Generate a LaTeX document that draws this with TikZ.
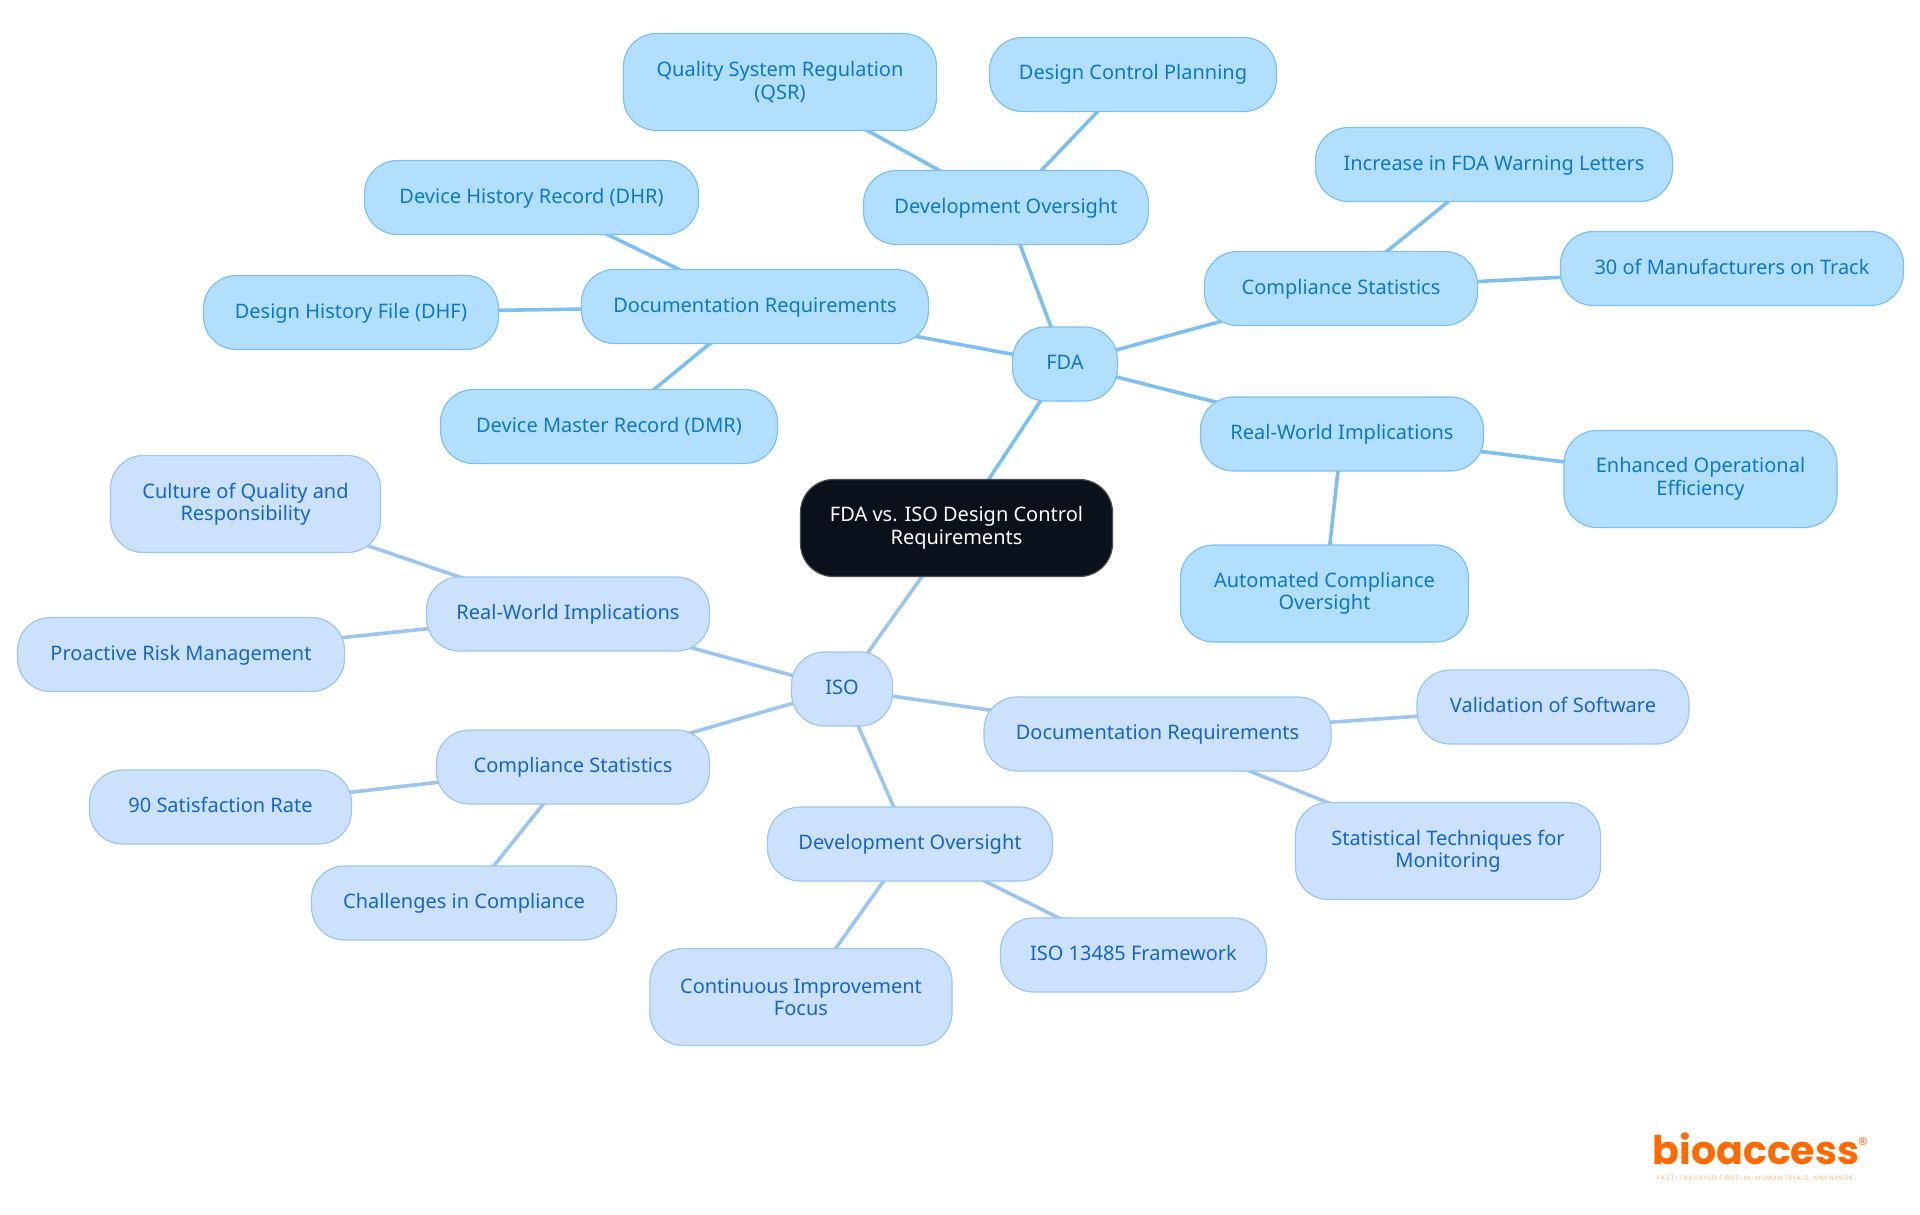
\documentclass[tikz,border=0pt]{standalone}
\usepackage{fontspec}
\setmainfont{Noto Sans}
\newfontfamily\logofont{Poppins}
\newfontfamily\tagfont[LetterSpace=12]{Poppins}
\usetikzlibrary{backgrounds}
\definecolor{fdafill}{HTML}{B3DFFF}
\definecolor{fdaline}{HTML}{7CC0F2}
\definecolor{fdatext}{HTML}{0B78C8}
\definecolor{isofill}{HTML}{CCE2FC}
\definecolor{isoline}{HTML}{9CC5F0}
\definecolor{isotext}{HTML}{1565C8}
\definecolor{rootfill}{HTML}{0B111A}
\definecolor{logoorange}{HTML}{FF6A00}
\tikzset{
  mapbox/.style={rounded corners=33pt, line width=1.2pt, inner sep=0pt, align=center, font=\fontsize{20}{22.5}\selectfont},
  rootbox/.style={mapbox, fill=rootfill, draw=rootfill!75!white, text=white},
  fdabox/.style={mapbox, fill=fdafill, draw=fdaline, text=fdatext},
  isobox/.style={mapbox, fill=isofill, draw=isoline, text=isotext},
  one/.style={minimum height=74pt, text height=15.5pt, text depth=4.5pt},
  two/.style={minimum height=97pt},
  fdaedge/.style={draw=fdaline, line width=3.6pt},
  isoedge/.style={draw=isoline, line width=3.6pt}
}
\begin{document}
\begin{tikzpicture}[x=1pt,y=-1pt]
\useasboundingbox (0,0) rectangle (1920,1215);
% Centre
\node[rootbox, two, minimum width=312pt] (root) at (956.5,528) {FDA vs. ISO Design Control\\Requirements};
% FDA
\node[fdabox, one, minimum width=105pt] (fda) at (1065,364) {FDA};
\node[fdabox, one, minimum width=285pt] (fdadev) at (1006,207.5) {Development Oversight};
\node[fdabox, two, minimum width=313pt] (qsr) at (780,82) {Quality System Regulation\\(QSR)};
\node[fdabox, one, minimum width=287pt] (planning) at (1133,74.5) {Design Control Planning};
\node[fdabox, one, minimum width=273pt] (fdastats) at (1341,288.5) {Compliance Statistics};
\node[fdabox, one, minimum width=357pt] (letters) at (1494,164.5) {Increase in FDA Warning Letters};
\node[fdabox, one, minimum width=343pt] (track) at (1732,268.5) {30 of Manufacturers on Track};
\node[fdabox, one, minimum width=283pt] (fdareal) at (1342,434) {Real-World Implications};
\node[fdabox, two, minimum width=273pt] (efficiency) at (1700.5,479) {Enhanced Operational\\Efficiency};
\node[fdabox, two, minimum width=288pt] (automated) at (1324.5,593.5) {Automated Compliance\\Oversight};
\node[fdabox, one, minimum width=347pt] (fdadoc) at (755,306.5) {Documentation Requirements};
\node[fdabox, one, minimum width=334pt] (dhr) at (531.5,197.5) {Device History Record (DHR)};
\node[fdabox, one, minimum width=295pt] (dhf) at (351,312.5) {Design History File (DHF)};
\node[fdabox, one, minimum width=337pt] (dmr) at (609,426.5) {Device Master Record (DMR)};
% ISO
\node[isobox, one, minimum width=101pt] (iso) at (842,689) {ISO};
\node[isobox, one, minimum width=283pt] (isoreal) at (568,614) {Real-World Implications};
\node[isobox, two, minimum width=270pt] (culture) at (245.5,504) {Culture of Quality and\\Responsibility};
\node[isobox, one, minimum width=327pt] (risk) at (181,654.5) {Proactive Risk Management};
\node[isobox, one, minimum width=273pt] (isostats) at (573,767) {Compliance Statistics};
\node[isobox, one, minimum width=262pt] (satisfaction) at (220.5,807) {90 Satisfaction Rate};
\node[isobox, one, minimum width=305pt] (challenges) at (464,903) {Challenges in Compliance};
\node[isobox, one, minimum width=285pt] (isodev) at (910,844) {Development Oversight};
\node[isobox, two, minimum width=302pt] (improvement) at (801,997) {Continuous Improvement\\Focus};
\node[isobox, one, minimum width=266pt] (framework) at (1133.5,955) {ISO 13485 Framework};
\node[isobox, one, minimum width=347pt] (isodoc) at (1157.5,734) {Documentation Requirements};
\node[isobox, one, minimum width=272pt] (software) at (1553,707) {Validation of Software};
\node[isobox, two, minimum width=305pt] (techniques) at (1448,851) {Statistical Techniques for\\Monitoring};
% Liens
\begin{scope}[on background layer]
\foreach \a/\b in {root/fda, fda/fdadev, fdadev/qsr, fdadev/planning, fda/fdastats, fdastats/letters, fdastats/track, fda/fdareal, fdareal/efficiency, fdareal/automated, fda/fdadoc, fdadoc/dhr, fdadoc/dhf, fdadoc/dmr}
  \draw[fdaedge] (\a.center) -- (\b.center);
\foreach \a/\b in {root/iso, iso/isoreal, isoreal/culture, isoreal/risk, iso/isostats, isostats/satisfaction, isostats/challenges, iso/isodev, isodev/improvement, isodev/framework, iso/isodoc, isodoc/software, isodoc/techniques}
  \draw[isoedge] (\a.center) -- (\b.center);
\end{scope}
% Logo
\node[inner sep=0pt, text=logoorange, font=\logofont\fontsize{39.5}{40}\selectfont\bfseries] (logo) at (1756,1149) {bioaccess};
\node[inner sep=0pt, text=logoorange, font=\fontsize{11}{11}\selectfont] (logomark) at (1863,1142) {®};
\node[inner sep=0pt, text=logoorange!50!white, font=\tagfont\fontsize{6.5}{7}\selectfont] (tagline) at (1755,1179) {FAST-TRACKING FIRST-IN-HUMAN TRIALS, ANYWHERE};
\end{tikzpicture}
\end{document}
